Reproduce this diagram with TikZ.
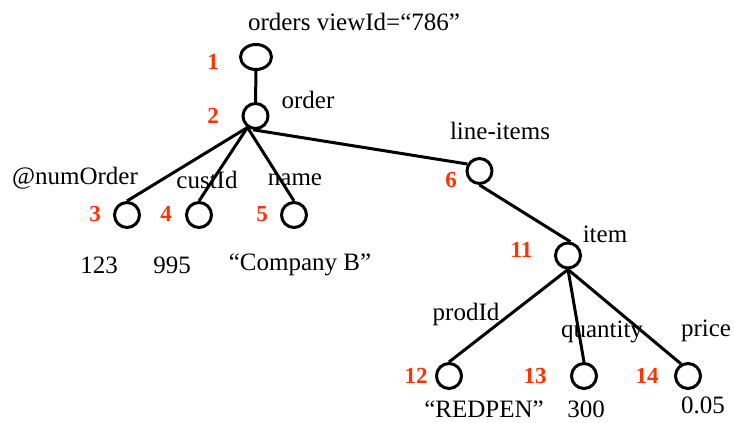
\documentclass[tikz,border=0pt]{standalone}
\usepackage{fontspec}
\setmainfont{Liberation Serif}
\usetikzlibrary{shapes.geometric}
\definecolor{numred}{RGB}{255,51,0}

\begin{document}
\begin{tikzpicture}[x=0.5pt, y=-0.5pt, line width=1.5pt,
    elem/.style={circle, draw, minimum size=12.5pt, inner sep=0pt},
    num/.style={text=numred, inner sep=0pt, font=\fontsize{11.5}{12}\selectfont\bfseries},
    lbl/.style={inner sep=0pt, font=\fontsize{12.5}{14}\selectfont}]
            \useasboundingbox (0,0) rectangle (734,423);
            % tree nodes
            \node[ellipse, draw, minimum width=15.5pt, minimum height=12.5pt, inner sep=0pt] (n1) at (256,57) {};
            \node[elem] (n2) at (255.5,116) {};
            \node[elem] (n3) at (127,215) {}; \node[elem] (n4) at (199,215) {}; \node[elem] (n5) at (294,215) {};
            \node[elem] (n6) at (479.5,171) {};
            \node[elem] (n11) at (568,255.5) {};
            \node[elem] (n12) at (449,376) {}; \node[elem] (n13) at (584,376) {}; \node[elem] (n14) at (688,376) {};
            % edges
            \draw (n1.south) -- (n2.north);
            \draw (n2.235) -- (n3.north); \draw (n2.235) -- (n4.north); \draw (n2.235) -- (n5.north);
            \draw (n2.260) -- (n6.150);
            \draw (n6.south) -- (n11.80);
            \draw (n11.south) -- (n12.north); \draw (n11.south) -- (n13.north); \draw (n11.south) -- (n14.120);
            % numbers
            \node[num] at (213,62) {1}; \node[num] at (213,116) {2};
            \node[num] at (95,214) {3}; \node[num] at (166,214) {4}; \node[num] at (262,214) {5};
            \node[num] at (451,180) {6}; \node[num] at (521.5,250) {11};
            \node[num] at (416,376) {12}; \node[num] at (535,376) {13}; \node[num] at (647,376) {14};
            % names and values
            \node[lbl] at (354,22) {orders viewId=“786”};
            \node[lbl] at (308,100) {order};
            \node[lbl] at (500,131) {line-items};
            \node[lbl] at (75,178) {@numOrder}; \node[lbl] at (207,180) {custId}; \node[lbl] at (295,180) {name};
            \node[lbl] at (99,265) {123}; \node[lbl] at (172,265) {995}; \node[lbl] at (300,265) {“Company B”};
            \node[lbl] at (605,234) {item};
            \node[lbl] at (466,314) {prodId}; \node[lbl] at (602,332) {quantity}; \node[lbl] at (706,331) {price};
            \node[lbl] at (484,409) {“REDPEN”}; \node[lbl] at (586,409) {300}; \node[lbl] at (703,405) {0.05};
        \end{tikzpicture}
\end{document}
